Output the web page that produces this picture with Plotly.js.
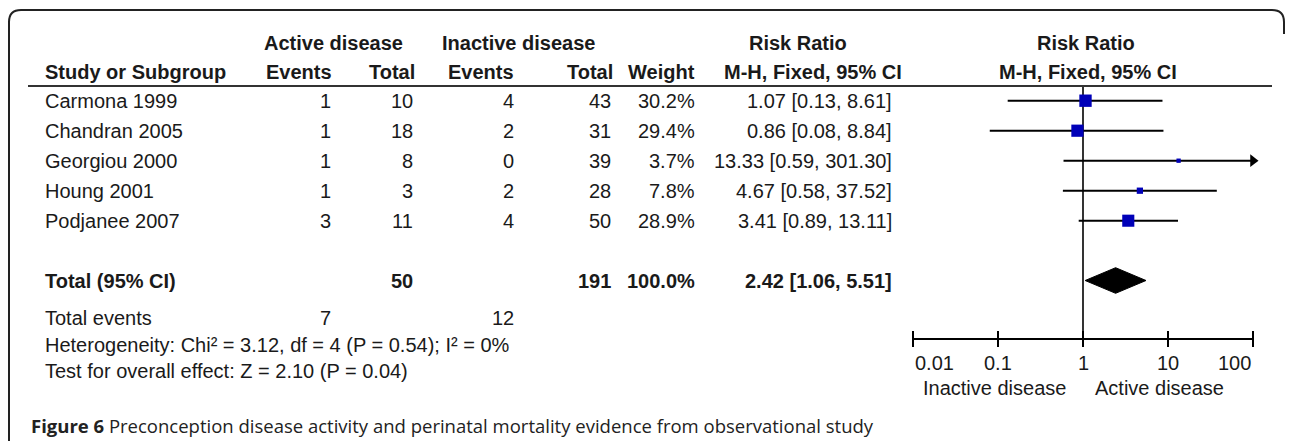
<!DOCTYPE html>
<html>
<head>
<meta charset="utf-8">
<script src="https://cdn.plot.ly/plotly-3.0.1.min.js"></script>
<style>html,body{margin:0;padding:0;background:#fff;}#chart{width:1290px;height:441px;}</style>
</head>
<body>
<div id="chart"></div>
<script>
// ---- data ----
const studies = ["Carmona 1999", "Chandran 2005", "Georgiou 2000", "Houng 2001", "Podjanee 2007"];
const activeEvents = [1, 1, 1, 1, 3];
const activeTotal = [10, 18, 8, 3, 11];
const inactiveEvents = [4, 2, 0, 2, 4];
const inactiveTotal = [43, 31, 39, 28, 50];
const weights = [30.2, 29.4, 3.7, 7.8, 28.9];
const riskRatio = [1.07, 0.86, 13.33, 4.67, 3.41];
const ciLow = [0.13, 0.08, 0.59, 0.58, 0.89];
const ciHigh = [8.61, 8.84, 301.30, 37.52, 13.11];
const pooledTotals = [50, 191];          // active, inactive
const pooledWeight = [100.0];
const pooledRR = [2.42, 1.06, 5.51];     // estimate, low, high
const totalEvents = [7, 12];             // active, inactive
const heterogeneity = {chi2: 3.12, df: 4, p: 0.54, i2: 0};
const overallEffect = {z: 2.10, p: 0.04};
const axisTicks = [0.01, 0.1, 1, 10, 100];
const axisTickLabels = ["0.01", "0.1", "1", "10", "100"];
const favourLabels = ["Inactive disease", "Active disease"];

// ---- layout constants (pixels) ----
const W = 1290, H = 441;
const yHead1 = 43, yHead2 = 72, yRule = 86;
const yRow0 = 100.7, rowStep = 30;
const yTotal = 280.5, yTotEv = 318, yHet = 345, yTest = 371;
const yAxis = 339, yTickLab = 363, yDirLab = 388, yCaption = 425;
const xStudy = 43, xAE = 333, xAT = 415, xIE = 516, xIT = 613, xW = 697, xRR = 894;
const FONT = "Liberation Sans, Arial, sans-serif";
const TXT = "#1a1a1a";
const AXMAX = 100;

const rowY = i => yRow0 + i * rowStep;

const ann = [];
function t(text, x, y, anchor, opts) {
  opts = opts || {};
  ann.push({
    text: opts.bold ? "<b>" + text + "</b>" : text,
    x: x, y: y, xref: opts.xref || "x", yref: "y",
    xanchor: anchor, yanchor: "middle", showarrow: false,
    xshift: opts.xshift || 0,
    font: {family: opts.family || FONT, size: opts.size || 20, color: opts.color || TXT}
  });
}

// headers
t("Active disease", 333, yHead1, "center", {bold: true});
t("Inactive disease", 518, yHead1, "center", {bold: true});
t("Risk Ratio", 798, yHead1, "center", {bold: true});
t("Risk Ratio", 1086, yHead1, "center", {bold: true});
t("Study or Subgroup", xStudy, yHead2, "left", {bold: true});
t("Events", xAE + 1, yHead2, "right", {bold: true});
t("Total", xAT + 2, yHead2, "right", {bold: true});
t("Events", xIE, yHead2, "right", {bold: true});
t("Total", xIT + 2, yHead2, "right", {bold: true});
t("Weight", xW, yHead2, "right", {bold: true});
t("M-H, Fixed, 95% CI", 904, yHead2, "right", {bold: true});
t("M-H, Fixed, 95% CI", 1088, yHead2, "center", {bold: true});

// study rows
studies.forEach((s, i) => {
  const y = rowY(i);
  t(s, xStudy, y, "left");
  t(String(activeEvents[i]), xAE, y, "right");
  t(String(activeTotal[i]), xAT, y, "right");
  t(String(inactiveEvents[i]), xIE, y, "right");
  t(String(inactiveTotal[i]), xIT, y, "right");
  t(weights[i].toFixed(1) + "%", xW, y, "right");
  t(riskRatio[i].toFixed(2) + " [" + ciLow[i].toFixed(2) + ", " + ciHigh[i].toFixed(2) + "]", xRR, y, "right");
});

// totals
t("Total (95% CI)", xStudy, yTotal, "left", {bold: true});
t(String(pooledTotals[0]), xAT, yTotal, "right", {bold: true});
t(String(pooledTotals[1]), xIT, yTotal, "right", {bold: true});
t(pooledWeight[0].toFixed(1) + "%", xW, yTotal, "right", {bold: true});
t(pooledRR[0].toFixed(2) + " [" + pooledRR[1].toFixed(2) + ", " + pooledRR[2].toFixed(2) + "]", xRR, yTotal, "right", {bold: true});
t("Total events", xStudy, yTotEv, "left");
t(String(totalEvents[0]), xAE, yTotEv, "right");
t(String(totalEvents[1]), xIE, yTotEv, "right");
t("Heterogeneity: Chi² = " + heterogeneity.chi2.toFixed(2) + ", df = " + heterogeneity.df +
  " (P = " + heterogeneity.p.toFixed(2) + "); I² = " + heterogeneity.i2 + "%", xStudy, yHet, "left");
t("Test for overall effect: Z = " + overallEffect.z.toFixed(2) + " (P = " + overallEffect.p.toFixed(2) + ")", xStudy, yTest, "left");

// axis labels (forest)
axisTicks.forEach((v, i) => {
  const anchor = i === 0 ? "left" : (i === axisTicks.length - 1 ? "right" : "center");
  t(axisTickLabels[i], Math.log10(v), yTickLab, anchor, {xref: "x2"});
});
t(favourLabels[0], 0, yDirLab, "right", {xref: "x2", xshift: -15});
t(favourLabels[1], 0, yDirLab, "left", {xref: "x2", xshift: 10});

// caption
t("<b>Figure 6</b> Preconception disease activity and perinatal mortality evidence from observational study",
  29, yCaption, "left", {family: "Open Sans, Noto Sans, sans-serif", size: 18.5, color: "#222"});

// ---- traces ----
const ciX = [], ciY = [];
studies.forEach((s, i) => {
  ciX.push(ciLow[i], Math.min(ciHigh[i], AXMAX), null);
  ciY.push(rowY(i), rowY(i), null);
});
const arrowX = [], arrowY = [];
studies.forEach((s, i) => { if (ciHigh[i] > AXMAX) { arrowX.push(AXMAX); arrowY.push(rowY(i)); } });

const tickX = [], tickY = [];
axisTicks.forEach(v => { tickX.push(v, v, null); tickY.push(yAxis - 8, yAxis + 8, null); });

const traces = [
  {type: "scatter", x: [], y: [], xaxis: "x", yaxis: "y", hoverinfo: "skip", showlegend: false},
  {type: "scatter", mode: "lines", x: [1, 1], y: [yRule, yAxis], xaxis: "x2", yaxis: "y",
   line: {color: "#000", width: 1.6}, hoverinfo: "skip", showlegend: false},
  {type: "scatter", mode: "lines", x: ciX, y: ciY, xaxis: "x2", yaxis: "y",
   line: {color: "#000", width: 2}, hoverinfo: "skip", showlegend: false},
  {type: "scatter", mode: "markers", x: riskRatio, y: studies.map((s, i) => rowY(i)), xaxis: "x2", yaxis: "y",
   marker: {symbol: "square", size: weights.map(w => 2.25 * Math.sqrt(w)), color: "#0000b8", opacity: 1, line: {width: 0}},
   hoverinfo: "skip", showlegend: false, cliponaxis: false},
  {type: "scatter", mode: "markers", x: arrowX, y: arrowY, xaxis: "x2", yaxis: "y",
   marker: {symbol: "triangle-right", size: 11, color: "#000", opacity: 1, line: {width: 0}},
   hoverinfo: "skip", showlegend: false, cliponaxis: false},
  {type: "scatter", mode: "lines", fill: "toself", fillcolor: "#000",
   x: [pooledRR[1], pooledRR[0], pooledRR[2], pooledRR[0], pooledRR[1]],
   y: [yTotal, yTotal - 12.8, yTotal, yTotal + 12.8, yTotal], xaxis: "x2", yaxis: "y",
   line: {color: "#000", width: 1}, hoverinfo: "skip", showlegend: false},
  {type: "scatter", mode: "lines", x: [axisTicks[0], axisTicks[axisTicks.length - 1]], y: [yAxis, yAxis],
   xaxis: "x2", yaxis: "y", line: {color: "#000", width: 2}, hoverinfo: "skip", showlegend: false},
  {type: "scatter", mode: "lines", x: tickX, y: tickY, xaxis: "x2", yaxis: "y",
   line: {color: "#000", width: 2}, hoverinfo: "skip", showlegend: false}
];

const pxPerDecade = 85, x1px = 1083, pad = 0.2;
const d0 = (x1px - (2 + pad) * pxPerDecade) / W, d1 = (x1px + (2 + pad) * pxPerDecade) / W;

const layout = {
  width: W, height: H,
  margin: {l: 0, r: 0, t: 0, b: 0, pad: 0},
  paper_bgcolor: "#fff", plot_bgcolor: "rgba(0,0,0,0)",
  showlegend: false,
  xaxis: {range: [0, W], domain: [0, 1], visible: false, fixedrange: true},
  xaxis2: {type: "log", range: [-2 - pad, 2 + pad], domain: [d0, d1], anchor: "y", visible: false, fixedrange: true},
  yaxis: {range: [H, 0], domain: [0, 1], visible: false, fixedrange: true, anchor: "x"},
  annotations: ann,
  shapes: [
    {type: "path", xref: "x", yref: "y",
     path: "M 9 441 L 9 22 Q 9 10 21 10 L 1272 10 Q 1284 10 1284 22 L 1284 34",
     line: {color: "#222", width: 2}},
    {type: "line", xref: "x", yref: "y", x0: 28, x1: 1272, y0: yRule, y1: yRule,
     line: {color: "#333", width: 2}}
  ]
};

Plotly.newPlot("chart", traces, layout, {staticPlot: true, displayModeBar: false});
</script>
</body>
</html>
